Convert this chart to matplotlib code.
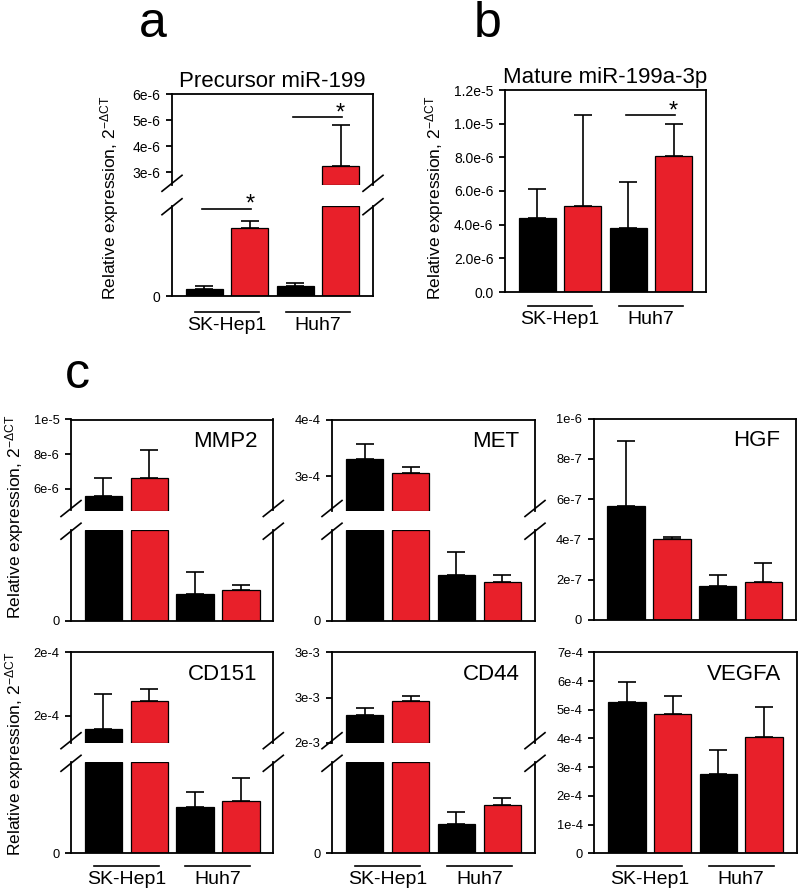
import matplotlib
matplotlib.use('Agg')
import matplotlib.pyplot as plt
from matplotlib.transforms import offset_copy
from matplotlib.lines import Line2D
import numpy as np

plt.rcParams['font.family'] = ['Liberation Sans', 'DejaVu Sans']
plt.rcParams['mathtext.fontset'] = 'custom'
plt.rcParams['mathtext.rm'] = 'Liberation Sans'
plt.rcParams['mathtext.it'] = 'Liberation Sans:italic'
plt.rcParams['mathtext.default'] = 'regular'

# ---------------- data ----------------
groups = ["SK-Hep1", "Huh7"]
ylabel_text = "Relative expression, 2$^{-\u0394CT}$"

# a: Precursor miR-199 (broken axis)
pre_title = "Precursor miR-199"
pre_mean = [0.185e-6, 1.89e-6, 0.285e-6, 3.25e-6]
pre_err = [0.084e-6, 0.194e-6, 0.083e-6, 1.56e-6]
pre_upper = [2.5e-6, 6e-6]
pre_lower = [0, 2.5e-6]
pre_ticks = [3e-6, 4e-6, 5e-6, 6e-6]
pre_ticklabels = ["3e-6", "4e-6", "5e-6", "6e-6"]
pre_sig = [(0, 1), (2, 3)]

# b: Mature miR-199a-3p
mat_title = "Mature miR-199a-3p"
mat_mean = [4.38e-6, 5.11e-6, 3.80e-6, 8.06e-6]
mat_err = [1.74e-6, 5.40e-6, 2.75e-6, 1.94e-6]
mat_ylim = [0, 1.2e-5]
mat_ticks = [0, 2e-6, 4e-6, 6e-6, 8e-6, 1e-5, 1.2e-5]
mat_ticklabels = ["0.0", "2.0e-6", "4.0e-6", "6.0e-6", "8.0e-6", "1.0e-5", "1.2e-5"]
mat_sig = [(2, 3)]

# c: genes
mmp2_mean = [5.57e-6, 6.61e-6, 1.39e-6, 1.62e-6]
mmp2_err = [1.04e-6, 1.61e-6, 1.15e-6, 0.26e-6]
mmp2_upper = [4.75e-6, 1e-5]
mmp2_lower = [0, 4.75e-6]
mmp2_ticks = [6e-6, 8e-6, 1e-5]
mmp2_ticklabels = ["6e-6", "8e-6", "1e-5"]

met_mean = [3.30e-4, 3.06e-4, 1.21e-4, 1.015e-4]
met_err = [0.27e-4, 0.11e-4, 0.60e-4, 0.20e-4]
met_upper = [2.4e-4, 4e-4]
met_lower = [0, 2.4e-4]
met_ticks = [3e-4, 4e-4]
met_ticklabels = ["3e-4", "4e-4"]

hgf_mean = [5.64e-7, 4.02e-7, 1.71e-7, 1.91e-7]
hgf_err = [3.24e-7, 0.08e-7, 0.54e-7, 0.92e-7]
hgf_ylim = [0, 1e-6]
hgf_ticks = [0, 2e-7, 4e-7, 6e-7, 8e-7, 1e-6]
hgf_ticklabels = ["0", "2e-7", "4e-7", "6e-7", "8e-7", "1e-6"]

cd151_mean = [1.90e-4, 2.12e-4, 0.916e-4, 1.035e-4]
cd151_err = [0.27e-4, 0.09e-4, 0.281e-4, 0.453e-4]
cd151_upper = [1.79e-4, 2.5e-4]
cd151_lower = [0, 1.79e-4]
cd151_ticks = [2.0e-4, 2.5e-4]
cd151_ticklabels = ["2e-4", "2e-4"]

cd44_mean = [2.31e-3, 2.46e-3, 0.64e-3, 1.066e-3]
cd44_err = [0.076e-3, 0.056e-3, 0.265e-3, 0.154e-3]
cd44_upper = [2.0e-3, 3.0e-3]
cd44_lower = [0, 2.0e-3]
cd44_ticks = [2.0e-3, 2.5e-3, 3.0e-3]
cd44_ticklabels = ["2e-3", "3e-3", "3e-3"]

vegfa_mean = [5.28e-4, 4.85e-4, 2.76e-4, 4.06e-4]
vegfa_err = [0.69e-4, 0.64e-4, 0.85e-4, 1.03e-4]
vegfa_ylim = [0, 7e-4]
vegfa_ticks = [0, 1e-4, 2e-4, 3e-4, 4e-4, 5e-4, 6e-4, 7e-4]
vegfa_ticklabels = ["0", "1e-4", "2e-4", "3e-4", "4e-4", "5e-4", "6e-4", "7e-4"]

# ---------------- style ----------------
RED = '#E8202A'
bar_colors = ['black', RED, 'black', RED]
W, H = 800, 893
fig = plt.figure(figsize=(8, 8.93), dpi=100)
SP_LW = 1.3
XLIM = (-0.71, 3.71)
BAR_W = 0.82


def fx(px):
    return px / W


def fy(py):
    return 1 - py / H


def rect(l, r, t, b):
    return [l / W, 1 - b / H, (r - l) / W, (b - t) / H]


def style_axes(ax, tick_fs):
    for s in ax.spines.values():
        s.set_linewidth(SP_LW)
    ax.set_xlim(*XLIM)
    ax.set_xticks([])
    ax.tick_params(axis='y', direction='out', length=4.3, width=SP_LW,
                   labelsize=tick_fs, pad=4)


def draw_bars(ax, mean, err, lo, hi):
    mean = np.asarray(mean)
    err = np.asarray(err)
    x = np.arange(len(mean))
    for i in range(len(mean)):
        if mean[i] <= lo:
            continue
        top = min(mean[i], hi)
        ax.bar(x[i], top - lo, bottom=lo, width=BAR_W, color=bar_colors[i],
               edgecolor='black', linewidth=0.9, zorder=2)
        if lo <= mean[i] <= hi:
            ax.errorbar(x[i], mean[i], yerr=[[0], [err[i]]], fmt='none',
                        ecolor='black', elinewidth=1.2, capsize=6.5,
                        capthick=1.2, zorder=3, clip_on=False)


def break_mark(xpx, ypx):
    fig.add_artist(Line2D([fx(xpx - 10), fx(xpx + 10)], [fy(ypx + 8), fy(ypx - 8)],
                          color='black', lw=1.2, transform=fig.transFigure))


def broken_panel(box, split, mean, err, upper, lower, ticks, ticklabels, tick_fs):
    l, r, t, b = box
    ub, lt = split
    ax_u = fig.add_axes(rect(l, r, t, ub))
    ax_l = fig.add_axes(rect(l, r, lt, b))
    for ax in (ax_u, ax_l):
        style_axes(ax, tick_fs)
        ax.patch.set_alpha(0)
    ax_u.spines['bottom'].set_visible(False)
    ax_l.spines['top'].set_visible(False)
    draw_bars(ax_u, mean, err, upper[0], upper[1])
    draw_bars(ax_l, mean, err, lower[0], lower[1])
    ax_u.set_ylim(*upper)
    ax_l.set_ylim(*lower)
    ax_u.set_yticks(ticks)
    ax_u.set_yticklabels(ticklabels)
    ax_l.set_yticks([0])
    ax_l.set_yticklabels(["0"])
    for xpx in (l, r):
        break_mark(xpx, ub - 2)
        break_mark(xpx, lt + 1)
    return ax_u, ax_l


def full_panel(box, mean, err, ylim, ticks, ticklabels, tick_fs):
    l, r, t, b = box
    ax = fig.add_axes(rect(l, r, t, b))
    style_axes(ax, tick_fs)
    draw_bars(ax, mean, err, ylim[0], ylim[1])
    ax.set_ylim(*ylim)
    ax.set_yticks(ticks)
    ax.set_yticklabels(ticklabels)
    return ax


def group_labels(ax, line_off, fs=14):
    tl = offset_copy(ax.get_xaxis_transform(), fig=fig, y=-line_off, units='dots')
    tt = offset_copy(ax.get_xaxis_transform(), fig=fig, y=-line_off - 5, units='dots')
    for gi, g in enumerate(groups):
        c = 2 * gi + 0.5
        ax.plot([c - 0.71, c + 0.71], [0, 0], color='black', lw=1.2,
                transform=tl, clip_on=False)
        ax.text(c, 0, g, transform=tt, ha='center', va='top', fontsize=fs)


def sig_marks(ax, pairs, mean, err, off_px):
    for (i, j), off in zip(pairs, off_px):
        top = max(mean[i] + err[i], mean[j] + err[j])
        tr = offset_copy(ax.transData, fig=fig, y=off, units='dots')
        ax.plot([i - 0.04, j + 0.02], [top, top], color='black', lw=1.2,
                transform=tr, clip_on=False)
        tr2 = offset_copy(ax.transData, fig=fig, y=off - 2, units='dots')
        ax.text(j, top, '*', transform=tr2, ha='center', va='baseline',
                fontsize=17)


def gene_label(box, name):
    l, r, t, b = box
    fig.text(fx(r - 15.5), fy(t + 27.5), name, ha='right', va='baseline', fontsize=16)


def ylabel(xpx, ypx):
    fig.text(fx(xpx), fy(ypx), ylabel_text, rotation=90, ha='center', va='center',
             fontsize=12.5)


# ---------------- panel a ----------------
box_a = (172, 373, 94, 296)
axa_u, axa_l = broken_panel(box_a, (185.3, 205.7), pre_mean, pre_err, pre_upper,
                            pre_lower, pre_ticks, pre_ticklabels, 10)
axa_u.set_title(pre_title, fontsize=16, pad=5)
group_labels(axa_l, 16)
sig_marks(axa_l, [pre_sig[0]], pre_mean, pre_err, [12])
sig_marks(axa_u, [pre_sig[1]], pre_mean, pre_err, [8])
ylabel(110, 197.5)
fig.text(fx(152.5), fy(37), 'a', ha='center', va='baseline', fontsize=36)

# ---------------- panel b ----------------
box_b = (505, 706, 90, 292)
axb = full_panel(box_b, mat_mean, mat_err, mat_ylim, mat_ticks, mat_ticklabels, 10)
axb.set_title(mat_title, fontsize=16, pad=5)
group_labels(axb, 14)
sig_marks(axb, mat_sig, mat_mean, mat_err, [8.5])
ylabel(435, 197.5)
fig.text(fx(488), fy(37), 'b', ha='center', va='baseline', fontsize=36)

# ---------------- panel c ----------------
fig.text(fx(77.5), fy(388), 'c', ha='center', va='baseline', fontsize=36)
TF = 9.3
box_mmp2 = (71, 273.3, 419.5, 620.8)
broken_panel(box_mmp2, (510.5, 530.2), mmp2_mean, mmp2_err, mmp2_upper, mmp2_lower,
             mmp2_ticks, mmp2_ticklabels, TF)
gene_label(box_mmp2, "MMP2")

box_met = (332, 535, 419.5, 620.8)
broken_panel(box_met, (510.5, 530.2), met_mean, met_err, met_upper, met_lower,
             met_ticks, met_ticklabels, TF)
gene_label(box_met, "MET")

box_hgf = (593.5, 796, 418.5, 620)
full_panel(box_hgf, hgf_mean, hgf_err, hgf_ylim, hgf_ticks, hgf_ticklabels, TF)
gene_label(box_hgf, "HGF")

box_cd151 = (71, 273.3, 652.3, 853)
_, ax151 = broken_panel(box_cd151, (742.7, 762.3), cd151_mean, cd151_err, cd151_upper,
                        cd151_lower, cd151_ticks, cd151_ticklabels, TF)
gene_label(box_cd151, "CD151")
group_labels(ax151, 13)

box_cd44 = (332, 535, 652.3, 853)
_, ax44 = broken_panel(box_cd44, (742.7, 762.3), cd44_mean, cd44_err, cd44_upper,
                       cd44_lower, cd44_ticks, cd44_ticklabels, TF)
gene_label(box_cd44, "CD44")
group_labels(ax44, 13)

box_vegfa = (594.3, 796.5, 652.3, 853.3)
axv = full_panel(box_vegfa, vegfa_mean, vegfa_err, vegfa_ylim, vegfa_ticks,
                 vegfa_ticklabels, TF)
gene_label(box_vegfa, "VEGFA")
group_labels(axv, 13)

ylabel(15, 516.7)
ylabel(15, 754)

fig.savefig('out.png', dpi=100)
